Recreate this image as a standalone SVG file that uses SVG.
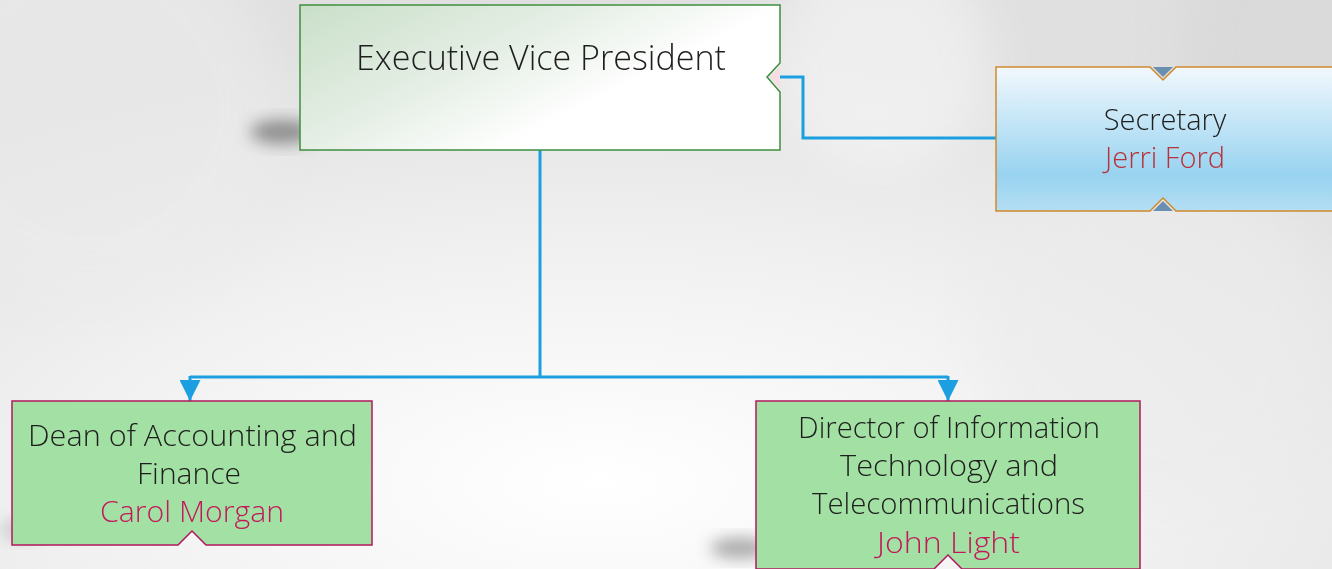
<svg xmlns="http://www.w3.org/2000/svg" width="1332" height="569" viewBox="0 0 1332 569">
<defs>
<radialGradient id="bg" cx="0.45" cy="0.85" r="0.8">
<stop offset="0" stop-color="#ffffff"/>
<stop offset="0.5" stop-color="#f1f1f1"/>
<stop offset="1" stop-color="#e0e0e0"/>
</radialGradient>
<linearGradient id="evp" x1="0" y1="0" x2="1" y2="0.6">
<stop offset="0" stop-color="#c9dfc9"/>
<stop offset="0.45" stop-color="#e6efe6"/>
<stop offset="0.75" stop-color="#ffffff"/>
<stop offset="1" stop-color="#ffffff"/>
</linearGradient>
<linearGradient id="sec" x1="0" y1="0" x2="0" y2="1">
<stop offset="0" stop-color="#f1f8fd"/>
<stop offset="0.75" stop-color="#98d3f0"/>
<stop offset="1" stop-color="#b4def3"/>
</linearGradient>
<filter id="blur" x="-50%" y="-50%" width="200%" height="200%"><feGaussianBlur stdDeviation="8"/></filter>
<filter id="blur2" x="-50%" y="-50%" width="200%" height="200%"><feGaussianBlur stdDeviation="25"/></filter>
<marker id="arr" viewBox="0 0 10 10" refX="10" refY="5" markerWidth="7" markerHeight="7" orient="auto" markerUnits="strokeWidth">
<path d="M0,0 L10,5 L0,10 z" fill="#1c9fe0"/>
</marker>
<style>
.t{font-family:"Open Sans","Liberation Sans",sans-serif;font-weight:300;text-anchor:middle;fill:#1e1e1e}
.n{fill:#c2185b}
.c{fill:none;stroke:#1c9fe0;stroke-width:3}
.g{fill:#a3e0a3;stroke:#b3175f;stroke-width:1.5}
</style>
</defs>
<rect width="1332" height="569" fill="url(#bg)"/>
<g opacity="0.6">
<circle cx="90" cy="110" r="190" fill="#ececec" filter="url(#blur2)"/>
<circle cx="1150" cy="330" r="170" fill="#ebebeb" filter="url(#blur2)"/>
<circle cx="1300" cy="40" r="120" fill="#d5d5d5" filter="url(#blur2)"/>
<circle cx="880" cy="60" r="110" fill="#f7f7f7" filter="url(#blur2)"/>
</g>
<g id="shadows">
<ellipse cx="282" cy="132" rx="32" ry="12" fill="#444" opacity="0.55" filter="url(#blur)"/>
<ellipse cx="740" cy="548" rx="30" ry="10" fill="#555" opacity="0.5" filter="url(#blur)"/>
<ellipse cx="20" cy="530" rx="20" ry="10" fill="#777" opacity="0.3" filter="url(#blur)"/>
</g>
<g id="connectors">
<path class="c" d="M540,150 V377"/>
<path class="c" d="M190,377 H948" stroke-width="2.5"/>
<path class="c" d="M190,376 V401" stroke-width="2.5" marker-end="url(#arr)"/>
<path class="c" d="M948,376 V401" stroke-width="2.5" marker-end="url(#arr)"/>
<path class="c" d="M780,77 H803 V138 H996"/>
</g>
<g id="evp">
<path d="M300,5 H780 V63 L767,77 L780,92 V150 H300 Z" fill="url(#evp)" stroke="#3e8e3e" stroke-width="1.5"/>
<path d="M780,66 L770,77 L780,88 Z" fill="#f6dde3"/>
<text class="t" x="541" y="70" font-size="34" textLength="370" lengthAdjust="spacingAndGlyphs">Executive Vice President</text>
</g>
<g id="secretary">
<path d="M996,67 H1150 L1163,80 L1176,67 H1334 V211 H1176 L1163,198 L1150,211 H996 Z" fill="url(#sec)" stroke="#d08a2c" stroke-width="1.5"/>
<path d="M1153,67 L1163,77 L1173,67 Z" fill="#6a8fb0"/>
<path d="M1153,211 L1163,201 L1173,211 Z" fill="#6a8fb0"/>
<text class="t" x="1165" y="130" font-size="29">Secretary</text>
<text class="t" x="1165" y="168" font-size="29" style="fill:#b8323a">Jerri Ford</text>
</g>
<g id="dean">
<path class="g" d="M12,401 H372 V545 H206 L192,531 L178,545 H12 Z"/>
<text class="t" x="192.5" y="446" font-size="30" textLength="329" lengthAdjust="spacingAndGlyphs">Dean of Accounting and</text>
<text class="t" x="189" y="484" font-size="30" textLength="104" lengthAdjust="spacingAndGlyphs">Finance</text>
<text class="t n" x="192" y="522" font-size="30" textLength="184" lengthAdjust="spacingAndGlyphs">Carol Morgan</text>
</g>
<g id="director">
<path class="g" d="M756,401 H1140 V569 H962 L948,555 L934,569 H756 Z"/>
<text class="t" x="949" y="438" font-size="30" textLength="302" lengthAdjust="spacingAndGlyphs">Director of Information</text>
<text class="t" x="949" y="476" font-size="30" textLength="218" lengthAdjust="spacingAndGlyphs">Technology and</text>
<text class="t" x="948.5" y="514" font-size="30" textLength="273" lengthAdjust="spacingAndGlyphs">Telecommunications</text>
<text class="t n" x="948.5" y="553" font-size="30" textLength="143" lengthAdjust="spacingAndGlyphs">John Light</text>
</g>
</svg>
